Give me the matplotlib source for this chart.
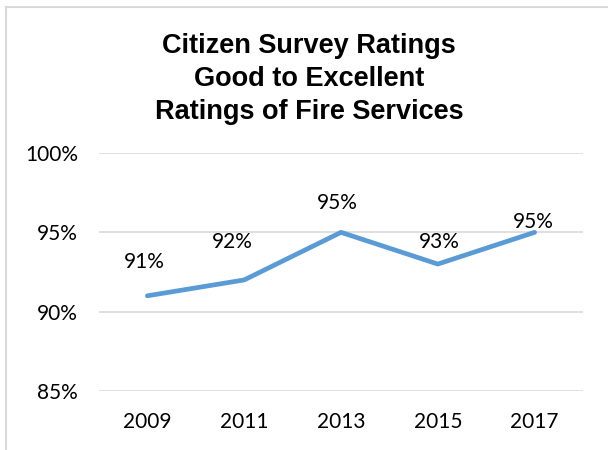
import matplotlib.pyplot as plt
from matplotlib.lines import Line2D

years = ["2009", "2011", "2013", "2015", "2017"]
ratings = [91, 92, 95, 93, 95]
y_ticks = [85, 90, 95, 100]
title_lines = ["Citizen Survey Ratings", "Good to Excellent", "Ratings of Fire Services"]

# offset (points) of each value label's baseline from its point
label_offsets = [(-2.2, 19.8), (-8.6, 22.7), (-2.9, 16.9), (1.4, 11.9), (-0.7, 3.2)]

fig = plt.figure(figsize=(6.08, 4.5), dpi=100)
W, H = 608, 450

# frame around the chart area (top and left edges visible)
border_color = "#D9D9D9"
fig.add_artist(Line2D([5.5 / W, 1.0], [1 - 6.5 / H] * 2, color=border_color, lw=1.5,
                      transform=fig.transFigure))
fig.add_artist(Line2D([5.5 / W] * 2, [0, 1 - 6.5 / H], color=border_color, lw=1.5,
                      transform=fig.transFigure))

ax = fig.add_axes([99 / W, 1 - 391 / H, (583 - 99) / W, (391 - 153) / H])

x = list(range(len(years)))
ax.plot(x, ratings, color="#5B9BD5", lw=3.4, solid_capstyle="round",
        solid_joinstyle="round", zorder=3)

tick_font = "Lato"
fs = 15
for xi, v, off in zip(x, ratings, label_offsets):
    ax.annotate(f"{v}%", (xi, v), xytext=off, textcoords="offset points",
                ha="center", va="baseline", fontsize=fs, family=tick_font, color="#000000")

ax.set_xlim(-0.5, len(years) - 0.5)
ax.set_ylim(85, 100)
ax.set_yticks(y_ticks)
ax.set_yticklabels([f"{t}%" for t in y_ticks], family=tick_font, fontsize=fs)
ax.set_xticks(x)
ax.set_xticklabels(years, family=tick_font, fontsize=fs)
ax.tick_params(axis="y", length=0, pad=15)
ax.tick_params(axis="x", length=0, pad=15)
ax.grid(axis="y", color="#D9D9D9", lw=1.2)
ax.set_axisbelow(True)
for s in ax.spines.values():
    s.set_visible(False)

for line, base in zip(title_lines, [53, 86, 119]):
    fig.text(309 / W, 1 - base / H, line, ha="center", va="baseline",
             fontsize=19.5, fontweight="bold", family="Liberation Sans")

fig.savefig("out.png", dpi=100)
